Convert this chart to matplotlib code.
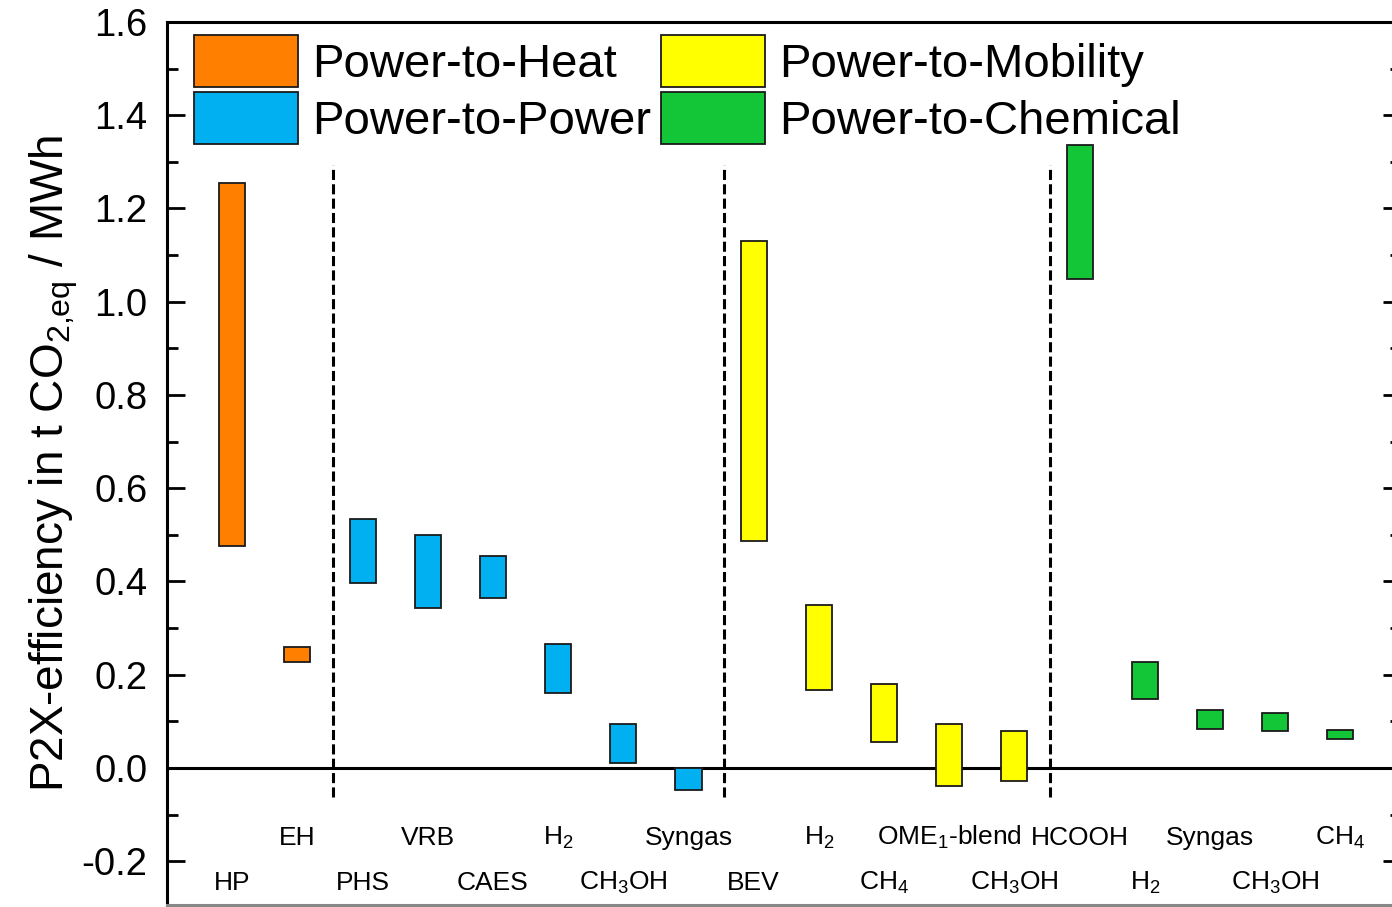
import matplotlib
matplotlib.use('Agg')
import matplotlib.pyplot as plt
from matplotlib.patches import Patch
from matplotlib.ticker import MultipleLocator

plt.rcParams['font.family'] = ['Liberation Sans', 'DejaVu Sans']
plt.rcParams['mathtext.default'] = 'regular'

# categories (left to right) and their group
labels = ['HP', 'EH', 'PHS', 'VRB', 'CAES', 'H$_2$', 'CH$_3$OH', 'Syngas',
          'BEV', 'H$_2$', 'CH$_4$', 'OME$_1$-blend', 'CH$_3$OH',
          'HCOOH', 'H$_2$', 'Syngas', 'CH$_3$OH', 'CH$_4$']
groups = ['Heat', 'Heat',
          'Power', 'Power', 'Power', 'Power', 'Power', 'Power',
          'Mobility', 'Mobility', 'Mobility', 'Mobility', 'Mobility',
          'Chemical', 'Chemical', 'Chemical', 'Chemical', 'Chemical']
# range of P2X efficiency (t CO2,eq / MWh)
low = [0.475, 0.227, 0.397, 0.343, 0.365, 0.161, 0.011, -0.047,
       0.487, 0.167, 0.056, -0.039, -0.028,
       1.049, 0.148, 0.084, 0.079, 0.062]
high = [1.255, 0.260, 0.534, 0.500, 0.455, 0.266, 0.094, 0.0,
        1.130, 0.350, 0.180, 0.094, 0.079,
        1.336, 0.227, 0.124, 0.118, 0.081]

colors = {'Heat': '#FF8000', 'Power': '#00B0F0',
          'Mobility': '#FFFF00', 'Chemical': '#12C637'}
legend_names = {'Heat': 'Power-to-Heat', 'Power': 'Power-to-Power',
                'Mobility': 'Power-to-Mobility', 'Chemical': 'Power-to-Chemical'}

fig = plt.figure(figsize=(13.92, 9.07), dpi=100)
# right spine sits just past the image edge, as in the original crop
ax = fig.add_axes([167 / 1392, 2 / 907, 1234 / 1392, 1 - 24 / 907])

x = list(range(1, len(labels) + 1))
heights = [h - l for h, l in zip(high, low)]
ax.bar(x, heights, bottom=low, width=0.4,
       color=[colors[g] for g in groups], edgecolor='#1a1a1a', linewidth=1.3, zorder=3)

ax.axhline(0, color='black', linewidth=2.2, zorder=2)

# separators between groups
for i in range(1, len(groups)):
    if groups[i] != groups[i - 1]:
        ax.plot([i + 0.55, i + 0.55], [-0.062, 1.293], color='black',
                linestyle=(0, (3.3, 1.4)), linewidth=2.2, zorder=2)

# staggered category labels
for i, lab in enumerate(labels):
    y = -0.247 if i % 2 == 0 else -0.150
    ax.text(x[i], y, lab, ha='center', va='center', fontsize=19)

ax.set_xlim(0, 18.93)
ax.set_ylim(-0.294, 1.6)
ax.yaxis.set_major_locator(MultipleLocator(0.2))
ax.yaxis.set_minor_locator(MultipleLocator(0.1))
ax.set_xticks([])
ax.tick_params(axis='y', which='major', direction='in', length=13, width=2,
               labelsize=27.5, right=True, pad=14)
ax.tick_params(axis='y', which='minor', direction='in', length=8, width=2, right=True)
ax.yaxis.set_major_formatter(matplotlib.ticker.FuncFormatter(lambda v, p: '%.1f' % v))
for s in ax.spines.values():
    s.set_linewidth(2.2)
ax.spines['bottom'].set_color('#888888')

ax.set_ylabel('P2X-efficiency in t CO$_{2{,}eq}$ / MWh', fontsize=33, labelpad=1)

handles = [Patch(facecolor=colors[g], edgecolor='#1a1a1a', linewidth=1.3)
           for g in ['Heat', 'Power', 'Mobility', 'Chemical']]
names = [legend_names[g] for g in ['Heat', 'Power', 'Mobility', 'Chemical']]
ax.legend(handles, names, ncol=2, loc='upper left', frameon=False,
          bbox_to_anchor=(0.022, 0.985), borderpad=0, borderaxespad=0,
          fontsize=34, handlelength=2.2, handleheight=1.3,
          handletextpad=0.3, columnspacing=0.2, labelspacing=0.12)

fig.savefig('out.png', dpi=100)
